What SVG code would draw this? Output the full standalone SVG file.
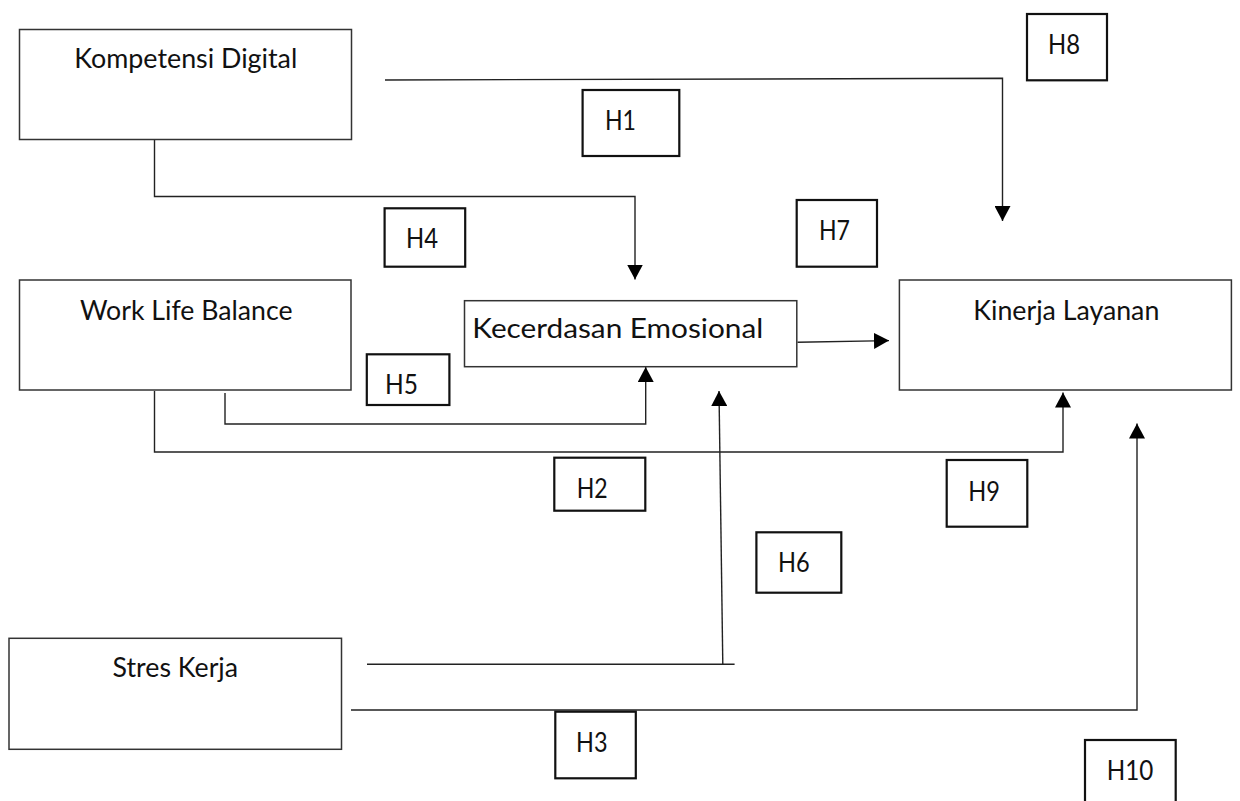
<svg xmlns="http://www.w3.org/2000/svg" width="1240" height="801" viewBox="0 0 1240 801">
<style>
.node{fill:#fff;stroke:#333;stroke-width:1.5}
.lbl{fill:#fff;stroke:#111;stroke-width:2.2}
.t{font-family:Lato,"Open Sans","Liberation Sans",sans-serif;font-size:26px;fill:#111}
.c{fill:none;stroke:#222;stroke-width:1.4}
</style>
<defs>
<marker id="ah" markerUnits="userSpaceOnUse" markerWidth="16" markerHeight="16" refX="15" refY="8" orient="auto">
<path d="M0,0 L15,8 L0,16 z" fill="#000"/>
</marker>
</defs>
<rect width="1240" height="801" fill="#fff"/>
<g id="connectors">
<path class="c" d="M385,80 L1002.5,78.3 L1002.5,221" marker-end="url(#ah)"/>
<path class="c" d="M154.5,139 V196.5 H635 V279.5" marker-end="url(#ah)"/>
<path class="c" d="M225,393 V424 H645.7 V367" marker-end="url(#ah)"/>
<path class="c" d="M154.5,391 V452 H1063 V392.5" marker-end="url(#ah)"/>
<path class="c" d="M797.5,342.3 L889,340.6" marker-end="url(#ah)"/>
<path class="c" d="M367,664.3 H734.6"/>
<path class="c" d="M722.8,664.3 L719,391" marker-end="url(#ah)"/>
<path class="c" d="M351,710 H1137 V423.5" marker-end="url(#ah)"/>
</g>
<g id="n-kompetensi">
<rect class="node" x="19.5" y="29.5" width="332" height="110"/>
<text class="t" x="74.3" y="68" textLength="223" lengthAdjust="spacingAndGlyphs">Kompetensi Digital</text>
</g>
<g id="n-wlb">
<rect class="node" x="19.5" y="280" width="331.5" height="110"/>
<text class="t" x="80" y="320" textLength="212.5" lengthAdjust="spacingAndGlyphs">Work Life Balance</text>
</g>
<g id="n-kecerdasan">
<rect class="node" x="464.5" y="300.7" width="332.3" height="66"/>
<text class="t" x="472.3" y="338.3" textLength="291" lengthAdjust="spacingAndGlyphs">Kecerdasan Emosional</text>
</g>
<g id="n-kinerja">
<rect class="node" x="899.4" y="280" width="332" height="110"/>
<text class="t" x="973.3" y="320" textLength="186" lengthAdjust="spacingAndGlyphs">Kinerja Layanan</text>
</g>
<g id="n-stres">
<rect class="node" x="9" y="638.3" width="332.5" height="111"/>
<text class="t" x="112.6" y="677.3" textLength="125.5" lengthAdjust="spacingAndGlyphs">Stres Kerja</text>
</g>
<g id="h1"><rect class="lbl" x="582.6" y="90" width="96.7" height="66"/><text class="t" x="605" y="130" textLength="31" lengthAdjust="spacingAndGlyphs">H1</text></g>
<g id="h2"><rect class="lbl" x="554.3" y="457.7" width="91" height="53"/><text class="t" x="576.7" y="498.3" textLength="31" lengthAdjust="spacingAndGlyphs">H2</text></g>
<g id="h3"><rect class="lbl" x="555.3" y="711.7" width="80.5" height="66.6"/><text class="t" x="576" y="751.7" textLength="31.5" lengthAdjust="spacingAndGlyphs">H3</text></g>
<g id="h4"><rect class="lbl" x="384.6" y="208.3" width="80.6" height="58.4"/><text class="t" x="406" y="248" textLength="32" lengthAdjust="spacingAndGlyphs">H4</text></g>
<g id="h5"><rect class="lbl" x="366.8" y="354.3" width="82.6" height="50.7"/><text class="t" x="385" y="394" textLength="33" lengthAdjust="spacingAndGlyphs">H5</text></g>
<g id="h6"><rect class="lbl" x="756.4" y="532.3" width="84.9" height="60.4"/><text class="t" x="778" y="572.3" textLength="31.7" lengthAdjust="spacingAndGlyphs">H6</text></g>
<g id="h7"><rect class="lbl" x="796.7" y="200" width="80.3" height="66.7"/><text class="t" x="819" y="240" textLength="31" lengthAdjust="spacingAndGlyphs">H7</text></g>
<g id="h8"><rect class="lbl" x="1027" y="14" width="80" height="66.3"/><text class="t" x="1048" y="54" textLength="32" lengthAdjust="spacingAndGlyphs">H8</text></g>
<g id="h9"><rect class="lbl" x="946.7" y="460" width="80.6" height="66.7"/><text class="t" x="968.3" y="500.7" textLength="31.7" lengthAdjust="spacingAndGlyphs">H9</text></g>
<g id="h10"><rect class="lbl" x="1085" y="740" width="90.7" height="70"/><text class="t" x="1106.7" y="780" textLength="46.6" lengthAdjust="spacingAndGlyphs">H10</text></g>
</svg>
